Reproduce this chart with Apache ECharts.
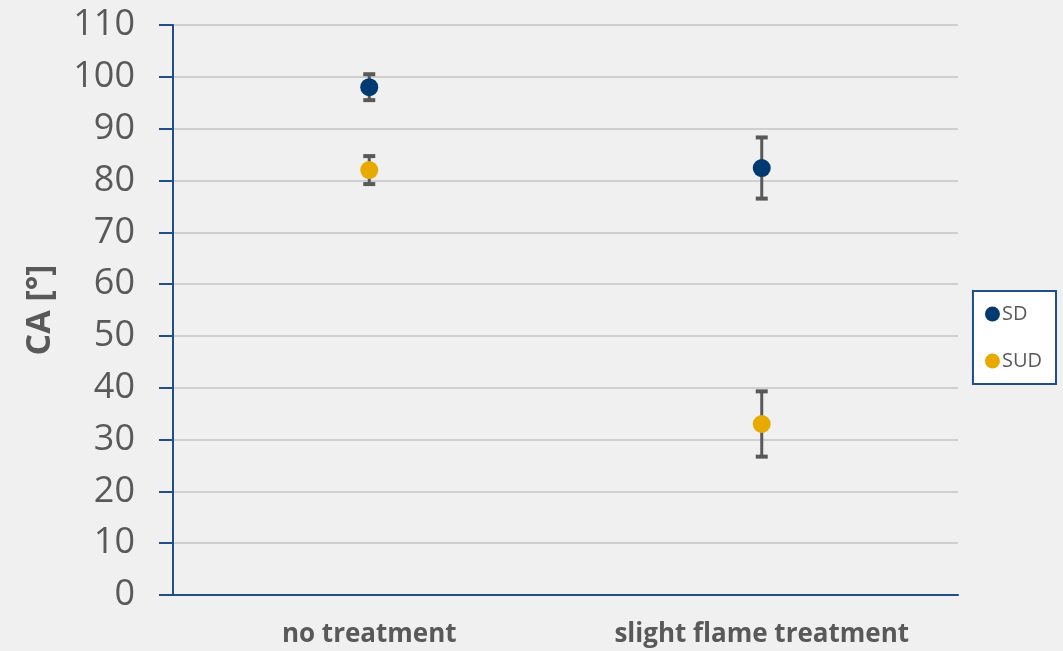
<!DOCTYPE html>
<html>
<head>
<meta charset="utf-8">
<script src="https://cdn.jsdelivr.net/npm/echarts@6/dist/echarts.min.js"></script>
<style>
  html, body { margin: 0; padding: 0; background: #f0f0f0; }
  #chart { width: 1063px; height: 651px; }
</style>
</head>
<body>
<div id="chart"></div>
<script>
// Contact angle per treatment, mean and standard deviation
const categories = ['no treatment', 'slight flame treatment'];
const sdMean = [98.0, 82.4];
const sdErr = [2.5, 5.9];
const sudMean = [82.0, 33.0];
const sudErr = [2.7, 6.3];
const yTicks = [0, 10, 20, 30, 40, 50, 60, 70, 80, 90, 100, 110];

const navy = '#003a70';
const gold = '#e8aa00';
const axisBlue = '#1f4e89';
const textGray = '#595959';

function errorData(means, errs) {
  return means.map((m, i) => [i, m - errs[i], m + errs[i]]);
}

// Vertical whisker with flat caps from the low to the high value
function renderError(params, api) {
  const x = api.value(0);
  const lo = api.coord([x, api.value(1)]);
  const hi = api.coord([x, api.value(2)]);
  const half = 6;
  const stem = { stroke: '#595959', lineWidth: 3 };
  const cap = { stroke: '#595959', lineWidth: 4 };
  return {
    type: 'group',
    children: [
      { type: 'line', shape: { x1: lo[0], y1: lo[1], x2: hi[0], y2: hi[1] }, style: stem },
      { type: 'line', shape: { x1: lo[0] - half, y1: hi[1], x2: lo[0] + half, y2: hi[1] }, style: cap },
      { type: 'line', shape: { x1: lo[0] - half, y1: lo[1], x2: lo[0] + half, y2: lo[1] }, style: cap }
    ]
  };
}

const chart = echarts.init(document.getElementById('chart'), null, { renderer: 'canvas' });
chart.setOption({
  backgroundColor: '#f0f0f0',
  animation: false,
  textStyle: { fontFamily: 'Open Sans' },
  grid: { left: 173, right: 105, top: 25, bottom: 56, containLabel: false },
  legend: {
    orient: 'vertical',
    right: 7,
    top: 291,
    backgroundColor: '#ffffff',
    borderColor: axisBlue,
    borderWidth: 2,
    borderRadius: 0,
    padding: [13, 14, 13, 12],
    itemGap: 27,
    itemWidth: 15,
    itemHeight: 15,
    textStyle: { color: textGray, fontSize: 20, fontFamily: 'Open Sans', padding: [0, 0, 0, -3] },
    data: [
      { name: 'SD', icon: 'circle' },
      { name: 'SUD', icon: 'circle' }
    ]
  },
  xAxis: {
    type: 'category',
    data: categories,
    boundaryGap: true,
    axisLine: { lineStyle: { color: axisBlue, width: 2 } },
    axisTick: { show: false },
    axisLabel: { color: textGray, fontSize: 26, fontWeight: 'bold', margin: 27 }
  },
  yAxis: {
    type: 'value',
    min: 0,
    max: 110,
    interval: 10,
    name: 'CA [°]',
    nameLocation: 'middle',
    nameGap: 116,
    nameTextStyle: { color: textGray, fontSize: 34, fontWeight: 'bold' },
    axisLine: { show: true, lineStyle: { color: axisBlue, width: 2 } },
    axisTick: { show: true, length: 14, lineStyle: { color: axisBlue, width: 2 } },
    axisLabel: {
      color: textGray, fontSize: 36, margin: 38,
      formatter: v => (yTicks.includes(v) ? String(v) : '')
    },
    splitLine: { lineStyle: { color: '#cfcfcf', width: 2 } }
  },
  series: [
    {
      name: 'SD',
      type: 'scatter',
      data: sdMean.map((v, i) => [i, v]),
      symbol: 'circle',
      symbolSize: 18,
      itemStyle: { color: navy, opacity: 1 },
      z: 3
    },
    {
      name: 'SUD',
      type: 'scatter',
      data: sudMean.map((v, i) => [i, v]),
      symbol: 'circle',
      symbolSize: 18,
      itemStyle: { color: gold, opacity: 1 },
      z: 3
    },
    {
      name: 'SD error',
      type: 'custom',
      renderItem: renderError,
      data: errorData(sdMean, sdErr),
      encode: { x: 0, y: [1, 2] },
      z: 2
    },
    {
      name: 'SUD error',
      type: 'custom',
      renderItem: renderError,
      data: errorData(sudMean, sudErr),
      encode: { x: 0, y: [1, 2] },
      z: 2
    }
  ]
});
</script>
</body>
</html>
